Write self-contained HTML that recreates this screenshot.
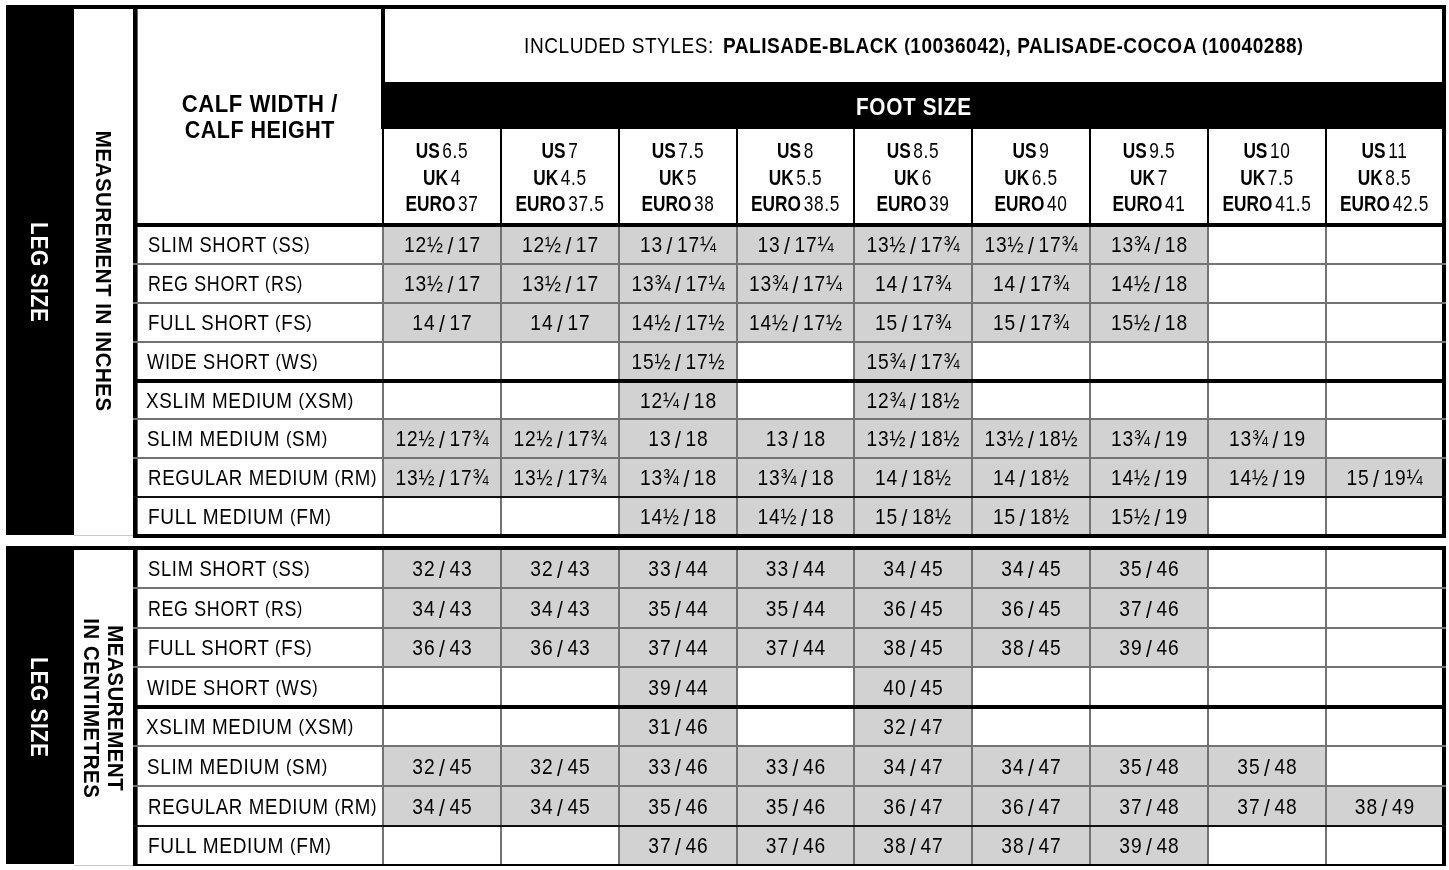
<!DOCTYPE html><html><head><meta charset="utf-8"><style>
*{margin:0;padding:0;box-sizing:border-box}
html,body{width:1449px;height:870px;background:#fff;overflow:hidden}
body{position:relative;filter:grayscale(1);font-family:"Liberation Sans",sans-serif;color:#000}
body>div{position:absolute}
.t{line-height:1;white-space:nowrap}
.c{text-align:center}
.v{white-space:nowrap;text-align:center;font-weight:bold}
.p{font-size:88%;vertical-align:0.11em}
.s{font-size:110%;vertical-align:-0.065em;line-height:0}
</style></head><body>
<div style="left:6px;top:5px;width:68px;height:530px;background:#000;"></div>
<div style="left:74px;top:535px;width:60px;height:1px;background:#c8c8c8;"></div>
<div style="left:6px;top:5px;width:1440px;height:4px;background:#000;"></div>
<div style="left:133px;top:5px;width:4px;height:533px;background:#000;"></div>
<div style="left:137px;top:9px;width:1px;height:529px;background:rgba(0,0,0,0.6);"></div>
<div style="left:1442px;top:5px;width:4px;height:533px;background:#000;"></div>
<div style="left:381px;top:5px;width:4px;height:124px;background:#000;"></div>
<div style="left:381px;top:82px;width:1061px;height:47px;background:#000;"></div>
<div style="left:382px;top:129px;width:2px;height:94px;background:#000;"></div>
<div style="left:500px;top:129px;width:2px;height:94px;background:#000;"></div>
<div style="left:618px;top:129px;width:2px;height:94px;background:#000;"></div>
<div style="left:736px;top:129px;width:2px;height:94px;background:#000;"></div>
<div style="left:853px;top:129px;width:2px;height:94px;background:#000;"></div>
<div style="left:971px;top:129px;width:2px;height:94px;background:#000;"></div>
<div style="left:1089px;top:129px;width:2px;height:94px;background:#000;"></div>
<div style="left:1207px;top:129px;width:2px;height:94px;background:#000;"></div>
<div style="left:1325px;top:129px;width:2px;height:94px;background:#000;"></div>
<div style="left:384px;top:227px;width:116px;height:36px;background:#d2d2d2;"></div>
<div style="left:502px;top:227px;width:116px;height:36px;background:#d2d2d2;"></div>
<div style="left:620px;top:227px;width:116px;height:36px;background:#d2d2d2;"></div>
<div style="left:738px;top:227px;width:115px;height:36px;background:#d2d2d2;"></div>
<div style="left:855px;top:227px;width:116px;height:36px;background:#d2d2d2;"></div>
<div style="left:973px;top:227px;width:116px;height:36px;background:#d2d2d2;"></div>
<div style="left:1091px;top:227px;width:116px;height:36px;background:#d2d2d2;"></div>
<div style="left:384px;top:265px;width:116px;height:37px;background:#d2d2d2;"></div>
<div style="left:502px;top:265px;width:116px;height:37px;background:#d2d2d2;"></div>
<div style="left:620px;top:265px;width:116px;height:37px;background:#d2d2d2;"></div>
<div style="left:738px;top:265px;width:115px;height:37px;background:#d2d2d2;"></div>
<div style="left:855px;top:265px;width:116px;height:37px;background:#d2d2d2;"></div>
<div style="left:973px;top:265px;width:116px;height:37px;background:#d2d2d2;"></div>
<div style="left:1091px;top:265px;width:116px;height:37px;background:#d2d2d2;"></div>
<div style="left:384px;top:304px;width:116px;height:37px;background:#d2d2d2;"></div>
<div style="left:502px;top:304px;width:116px;height:37px;background:#d2d2d2;"></div>
<div style="left:620px;top:304px;width:116px;height:37px;background:#d2d2d2;"></div>
<div style="left:738px;top:304px;width:115px;height:37px;background:#d2d2d2;"></div>
<div style="left:855px;top:304px;width:116px;height:37px;background:#d2d2d2;"></div>
<div style="left:973px;top:304px;width:116px;height:37px;background:#d2d2d2;"></div>
<div style="left:1091px;top:304px;width:116px;height:37px;background:#d2d2d2;"></div>
<div style="left:620px;top:343px;width:116px;height:36px;background:#d2d2d2;"></div>
<div style="left:855px;top:343px;width:116px;height:36px;background:#d2d2d2;"></div>
<div style="left:620px;top:383px;width:116px;height:35px;background:#d2d2d2;"></div>
<div style="left:855px;top:383px;width:116px;height:35px;background:#d2d2d2;"></div>
<div style="left:384px;top:420px;width:116px;height:37px;background:#d2d2d2;"></div>
<div style="left:502px;top:420px;width:116px;height:37px;background:#d2d2d2;"></div>
<div style="left:620px;top:420px;width:116px;height:37px;background:#d2d2d2;"></div>
<div style="left:738px;top:420px;width:115px;height:37px;background:#d2d2d2;"></div>
<div style="left:855px;top:420px;width:116px;height:37px;background:#d2d2d2;"></div>
<div style="left:973px;top:420px;width:116px;height:37px;background:#d2d2d2;"></div>
<div style="left:1091px;top:420px;width:116px;height:37px;background:#d2d2d2;"></div>
<div style="left:1209px;top:420px;width:116px;height:37px;background:#d2d2d2;"></div>
<div style="left:384px;top:459px;width:116px;height:37px;background:#d2d2d2;"></div>
<div style="left:502px;top:459px;width:116px;height:37px;background:#d2d2d2;"></div>
<div style="left:620px;top:459px;width:116px;height:37px;background:#d2d2d2;"></div>
<div style="left:738px;top:459px;width:115px;height:37px;background:#d2d2d2;"></div>
<div style="left:855px;top:459px;width:116px;height:37px;background:#d2d2d2;"></div>
<div style="left:973px;top:459px;width:116px;height:37px;background:#d2d2d2;"></div>
<div style="left:1091px;top:459px;width:116px;height:37px;background:#d2d2d2;"></div>
<div style="left:1209px;top:459px;width:116px;height:37px;background:#d2d2d2;"></div>
<div style="left:1327px;top:459px;width:115px;height:37px;background:#d2d2d2;"></div>
<div style="left:620px;top:498px;width:116px;height:36px;background:#d2d2d2;"></div>
<div style="left:738px;top:498px;width:115px;height:36px;background:#d2d2d2;"></div>
<div style="left:855px;top:498px;width:116px;height:36px;background:#d2d2d2;"></div>
<div style="left:973px;top:498px;width:116px;height:36px;background:#d2d2d2;"></div>
<div style="left:1091px;top:498px;width:116px;height:36px;background:#d2d2d2;"></div>
<div style="left:382px;top:227px;width:2px;height:307px;background:#737373;"></div>
<div style="left:500px;top:227px;width:2px;height:307px;background:#737373;"></div>
<div style="left:618px;top:227px;width:2px;height:307px;background:#737373;"></div>
<div style="left:736px;top:227px;width:2px;height:307px;background:#737373;"></div>
<div style="left:853px;top:227px;width:2px;height:307px;background:#737373;"></div>
<div style="left:971px;top:227px;width:2px;height:307px;background:#737373;"></div>
<div style="left:1089px;top:227px;width:2px;height:307px;background:#737373;"></div>
<div style="left:1207px;top:227px;width:2px;height:307px;background:#737373;"></div>
<div style="left:1325px;top:227px;width:2px;height:307px;background:#737373;"></div>
<div style="left:133px;top:223px;width:1313px;height:4px;background:#000;"></div>
<div style="left:133px;top:263px;width:1313px;height:2px;background:#737373;"></div>
<div style="left:133px;top:302px;width:1313px;height:2px;background:#737373;"></div>
<div style="left:133px;top:341px;width:1313px;height:2px;background:#737373;"></div>
<div style="left:133px;top:379px;width:1313px;height:4px;background:#000;"></div>
<div style="left:133px;top:418px;width:1313px;height:2px;background:#737373;"></div>
<div style="left:133px;top:457px;width:1313px;height:2px;background:#737373;"></div>
<div style="left:133px;top:496px;width:1313px;height:2px;background:#111;"></div>
<div style="left:133px;top:534px;width:1313px;height:4px;background:#000;"></div>
<div class="t" style="left:147.912px;top:233.831px;width:240px;font-size:21.7px;letter-spacing:0.8px;transform:scaleX(0.848);transform-origin:left;">SLIM SHORT <span class="p">(</span>SS<span class="p">)</span></div>
<div class="t c" style="left:384px;top:233.831px;width:116px;font-size:21.7px;letter-spacing:1.0px;word-spacing:-3.0px;padding-left:1.0px;transform:scaleX(0.885);transform-origin:center;">12&#189; <span class="s">/</span> 17</div>
<div class="t c" style="left:502px;top:233.831px;width:116px;font-size:21.7px;letter-spacing:1.0px;word-spacing:-3.0px;padding-left:1.0px;transform:scaleX(0.885);transform-origin:center;">12&#189; <span class="s">/</span> 17</div>
<div class="t c" style="left:620px;top:233.831px;width:116px;font-size:21.7px;letter-spacing:1.0px;word-spacing:-3.0px;padding-left:1.0px;transform:scaleX(0.885);transform-origin:center;">13 <span class="s">/</span> 17&#188;</div>
<div class="t c" style="left:738px;top:233.831px;width:115px;font-size:21.7px;letter-spacing:1.0px;word-spacing:-3.0px;padding-left:1.0px;transform:scaleX(0.885);transform-origin:center;">13 <span class="s">/</span> 17&#188;</div>
<div class="t c" style="left:855px;top:233.831px;width:116px;font-size:21.7px;letter-spacing:1.0px;word-spacing:-3.0px;padding-left:1.0px;transform:scaleX(0.885);transform-origin:center;">13&#189; <span class="s">/</span> 17&#190;</div>
<div class="t c" style="left:973px;top:233.831px;width:116px;font-size:21.7px;letter-spacing:1.0px;word-spacing:-3.0px;padding-left:1.0px;transform:scaleX(0.885);transform-origin:center;">13&#189; <span class="s">/</span> 17&#190;</div>
<div class="t c" style="left:1091px;top:233.831px;width:116px;font-size:21.7px;letter-spacing:1.0px;word-spacing:-3.0px;padding-left:1.0px;transform:scaleX(0.885);transform-origin:center;">13&#190; <span class="s">/</span> 18</div>
<div class="t" style="left:147.803px;top:272.831px;width:240px;font-size:21.7px;letter-spacing:0.8px;transform:scaleX(0.823);transform-origin:left;">REG SHORT <span class="p">(</span>RS<span class="p">)</span></div>
<div class="t c" style="left:384px;top:272.831px;width:116px;font-size:21.7px;letter-spacing:1.0px;word-spacing:-3.0px;padding-left:1.0px;transform:scaleX(0.885);transform-origin:center;">13&#189; <span class="s">/</span> 17</div>
<div class="t c" style="left:502px;top:272.831px;width:116px;font-size:21.7px;letter-spacing:1.0px;word-spacing:-3.0px;padding-left:1.0px;transform:scaleX(0.885);transform-origin:center;">13&#189; <span class="s">/</span> 17</div>
<div class="t c" style="left:620px;top:272.831px;width:116px;font-size:21.7px;letter-spacing:1.0px;word-spacing:-3.0px;padding-left:1.0px;transform:scaleX(0.885);transform-origin:center;">13&#190; <span class="s">/</span> 17&#188;</div>
<div class="t c" style="left:738px;top:272.831px;width:115px;font-size:21.7px;letter-spacing:1.0px;word-spacing:-3.0px;padding-left:1.0px;transform:scaleX(0.885);transform-origin:center;">13&#190; <span class="s">/</span> 17&#188;</div>
<div class="t c" style="left:855px;top:272.831px;width:116px;font-size:21.7px;letter-spacing:1.0px;word-spacing:-3.0px;padding-left:1.0px;transform:scaleX(0.885);transform-origin:center;">14 <span class="s">/</span> 17&#190;</div>
<div class="t c" style="left:973px;top:272.831px;width:116px;font-size:21.7px;letter-spacing:1.0px;word-spacing:-3.0px;padding-left:1.0px;transform:scaleX(0.885);transform-origin:center;">14 <span class="s">/</span> 17&#190;</div>
<div class="t c" style="left:1091px;top:272.831px;width:116px;font-size:21.7px;letter-spacing:1.0px;word-spacing:-3.0px;padding-left:1.0px;transform:scaleX(0.885);transform-origin:center;">14&#189; <span class="s">/</span> 18</div>
<div class="t" style="left:147.875px;top:311.831px;width:240px;font-size:21.7px;letter-spacing:0.8px;transform:scaleX(0.857);transform-origin:left;">FULL SHORT <span class="p">(</span>FS<span class="p">)</span></div>
<div class="t c" style="left:384px;top:311.831px;width:116px;font-size:21.7px;letter-spacing:1.0px;word-spacing:-3.0px;padding-left:1.0px;transform:scaleX(0.885);transform-origin:center;">14 <span class="s">/</span> 17</div>
<div class="t c" style="left:502px;top:311.831px;width:116px;font-size:21.7px;letter-spacing:1.0px;word-spacing:-3.0px;padding-left:1.0px;transform:scaleX(0.885);transform-origin:center;">14 <span class="s">/</span> 17</div>
<div class="t c" style="left:620px;top:311.831px;width:116px;font-size:21.7px;letter-spacing:1.0px;word-spacing:-3.0px;padding-left:1.0px;transform:scaleX(0.885);transform-origin:center;">14&#189; <span class="s">/</span> 17&#189;</div>
<div class="t c" style="left:738px;top:311.831px;width:115px;font-size:21.7px;letter-spacing:1.0px;word-spacing:-3.0px;padding-left:1.0px;transform:scaleX(0.885);transform-origin:center;">14&#189; <span class="s">/</span> 17&#189;</div>
<div class="t c" style="left:855px;top:311.831px;width:116px;font-size:21.7px;letter-spacing:1.0px;word-spacing:-3.0px;padding-left:1.0px;transform:scaleX(0.885);transform-origin:center;">15 <span class="s">/</span> 17&#190;</div>
<div class="t c" style="left:973px;top:311.831px;width:116px;font-size:21.7px;letter-spacing:1.0px;word-spacing:-3.0px;padding-left:1.0px;transform:scaleX(0.885);transform-origin:center;">15 <span class="s">/</span> 17&#190;</div>
<div class="t c" style="left:1091px;top:311.831px;width:116px;font-size:21.7px;letter-spacing:1.0px;word-spacing:-3.0px;padding-left:1.0px;transform:scaleX(0.885);transform-origin:center;">15&#189; <span class="s">/</span> 18</div>
<div class="t" style="left:147.12px;top:350.831px;width:240px;font-size:21.7px;letter-spacing:0.8px;transform:scaleX(0.842);transform-origin:left;">WIDE SHORT <span class="p">(</span>WS<span class="p">)</span></div>
<div class="t c" style="left:620px;top:350.831px;width:116px;font-size:21.7px;letter-spacing:1.0px;word-spacing:-3.0px;padding-left:1.0px;transform:scaleX(0.885);transform-origin:center;">15&#189; <span class="s">/</span> 17&#189;</div>
<div class="t c" style="left:855px;top:350.831px;width:116px;font-size:21.7px;letter-spacing:1.0px;word-spacing:-3.0px;padding-left:1.0px;transform:scaleX(0.885);transform-origin:center;">15&#190; <span class="s">/</span> 17&#190;</div>
<div class="t" style="left:145.771px;top:389.831px;width:240px;font-size:21.7px;letter-spacing:0.8px;transform:scaleX(0.869);transform-origin:left;">XSLIM MEDIUM <span class="p">(</span>XSM<span class="p">)</span></div>
<div class="t c" style="left:620px;top:389.831px;width:116px;font-size:21.7px;letter-spacing:1.0px;word-spacing:-3.0px;padding-left:1.0px;transform:scaleX(0.885);transform-origin:center;">12&#188; <span class="s">/</span> 18</div>
<div class="t c" style="left:855px;top:389.831px;width:116px;font-size:21.7px;letter-spacing:1.0px;word-spacing:-3.0px;padding-left:1.0px;transform:scaleX(0.885);transform-origin:center;">12&#190; <span class="s">/</span> 18&#189;</div>
<div class="t" style="left:147.353px;top:427.831px;width:240px;font-size:21.7px;letter-spacing:0.8px;transform:scaleX(0.867);transform-origin:left;">SLIM MEDIUM <span class="p">(</span>SM<span class="p">)</span></div>
<div class="t c" style="left:384px;top:427.831px;width:116px;font-size:21.7px;letter-spacing:1.0px;word-spacing:-3.0px;padding-left:1.0px;transform:scaleX(0.885);transform-origin:center;">12&#189; <span class="s">/</span> 17&#190;</div>
<div class="t c" style="left:502px;top:427.831px;width:116px;font-size:21.7px;letter-spacing:1.0px;word-spacing:-3.0px;padding-left:1.0px;transform:scaleX(0.885);transform-origin:center;">12&#189; <span class="s">/</span> 17&#190;</div>
<div class="t c" style="left:620px;top:427.831px;width:116px;font-size:21.7px;letter-spacing:1.0px;word-spacing:-3.0px;padding-left:1.0px;transform:scaleX(0.885);transform-origin:center;">13 <span class="s">/</span> 18</div>
<div class="t c" style="left:738px;top:427.831px;width:115px;font-size:21.7px;letter-spacing:1.0px;word-spacing:-3.0px;padding-left:1.0px;transform:scaleX(0.885);transform-origin:center;">13 <span class="s">/</span> 18</div>
<div class="t c" style="left:855px;top:427.831px;width:116px;font-size:21.7px;letter-spacing:1.0px;word-spacing:-3.0px;padding-left:1.0px;transform:scaleX(0.885);transform-origin:center;">13&#189; <span class="s">/</span> 18&#189;</div>
<div class="t c" style="left:973px;top:427.831px;width:116px;font-size:21.7px;letter-spacing:1.0px;word-spacing:-3.0px;padding-left:1.0px;transform:scaleX(0.885);transform-origin:center;">13&#189; <span class="s">/</span> 18&#189;</div>
<div class="t c" style="left:1091px;top:427.831px;width:116px;font-size:21.7px;letter-spacing:1.0px;word-spacing:-3.0px;padding-left:1.0px;transform:scaleX(0.885);transform-origin:center;">13&#190; <span class="s">/</span> 19</div>
<div class="t c" style="left:1209px;top:427.831px;width:116px;font-size:21.7px;letter-spacing:1.0px;word-spacing:-3.0px;padding-left:1.0px;transform:scaleX(0.885);transform-origin:center;">13&#190; <span class="s">/</span> 19</div>
<div class="t" style="left:147.679px;top:466.831px;width:240px;font-size:21.7px;letter-spacing:0.8px;transform:scaleX(0.86);transform-origin:left;">REGULAR MEDIUM <span class="p">(</span>RM<span class="p">)</span></div>
<div class="t c" style="left:384px;top:466.831px;width:116px;font-size:21.7px;letter-spacing:1.0px;word-spacing:-3.0px;padding-left:1.0px;transform:scaleX(0.885);transform-origin:center;">13&#189; <span class="s">/</span> 17&#190;</div>
<div class="t c" style="left:502px;top:466.831px;width:116px;font-size:21.7px;letter-spacing:1.0px;word-spacing:-3.0px;padding-left:1.0px;transform:scaleX(0.885);transform-origin:center;">13&#189; <span class="s">/</span> 17&#190;</div>
<div class="t c" style="left:620px;top:466.831px;width:116px;font-size:21.7px;letter-spacing:1.0px;word-spacing:-3.0px;padding-left:1.0px;transform:scaleX(0.885);transform-origin:center;">13&#190; <span class="s">/</span> 18</div>
<div class="t c" style="left:738px;top:466.831px;width:115px;font-size:21.7px;letter-spacing:1.0px;word-spacing:-3.0px;padding-left:1.0px;transform:scaleX(0.885);transform-origin:center;">13&#190; <span class="s">/</span> 18</div>
<div class="t c" style="left:855px;top:466.831px;width:116px;font-size:21.7px;letter-spacing:1.0px;word-spacing:-3.0px;padding-left:1.0px;transform:scaleX(0.885);transform-origin:center;">14 <span class="s">/</span> 18&#189;</div>
<div class="t c" style="left:973px;top:466.831px;width:116px;font-size:21.7px;letter-spacing:1.0px;word-spacing:-3.0px;padding-left:1.0px;transform:scaleX(0.885);transform-origin:center;">14 <span class="s">/</span> 18&#189;</div>
<div class="t c" style="left:1091px;top:466.831px;width:116px;font-size:21.7px;letter-spacing:1.0px;word-spacing:-3.0px;padding-left:1.0px;transform:scaleX(0.885);transform-origin:center;">14&#189; <span class="s">/</span> 19</div>
<div class="t c" style="left:1209px;top:466.831px;width:116px;font-size:21.7px;letter-spacing:1.0px;word-spacing:-3.0px;padding-left:1.0px;transform:scaleX(0.885);transform-origin:center;">14&#189; <span class="s">/</span> 19</div>
<div class="t c" style="left:1327px;top:466.831px;width:115px;font-size:21.7px;letter-spacing:1.0px;word-spacing:-3.0px;padding-left:1.0px;transform:scaleX(0.885);transform-origin:center;">15 <span class="s">/</span> 19&#188;</div>
<div class="t" style="left:148.233px;top:505.831px;width:240px;font-size:21.7px;letter-spacing:0.8px;transform:scaleX(0.878);transform-origin:left;">FULL MEDIUM <span class="p">(</span>FM<span class="p">)</span></div>
<div class="t c" style="left:620px;top:505.831px;width:116px;font-size:21.7px;letter-spacing:1.0px;word-spacing:-3.0px;padding-left:1.0px;transform:scaleX(0.885);transform-origin:center;">14&#189; <span class="s">/</span> 18</div>
<div class="t c" style="left:738px;top:505.831px;width:115px;font-size:21.7px;letter-spacing:1.0px;word-spacing:-3.0px;padding-left:1.0px;transform:scaleX(0.885);transform-origin:center;">14&#189; <span class="s">/</span> 18</div>
<div class="t c" style="left:855px;top:505.831px;width:116px;font-size:21.7px;letter-spacing:1.0px;word-spacing:-3.0px;padding-left:1.0px;transform:scaleX(0.885);transform-origin:center;">15 <span class="s">/</span> 18&#189;</div>
<div class="t c" style="left:973px;top:505.831px;width:116px;font-size:21.7px;letter-spacing:1.0px;word-spacing:-3.0px;padding-left:1.0px;transform:scaleX(0.885);transform-origin:center;">15 <span class="s">/</span> 18&#189;</div>
<div class="t c" style="left:1091px;top:505.831px;width:116px;font-size:21.7px;letter-spacing:1.0px;word-spacing:-3.0px;padding-left:1.0px;transform:scaleX(0.885);transform-origin:center;">15&#189; <span class="s">/</span> 19</div>
<div style="left:6px;top:546px;width:68px;height:318px;background:#000;"></div>
<div style="left:74px;top:546px;width:60px;height:4px;background:#000;"></div>
<div style="left:74px;top:865px;width:60px;height:1px;background:#c8c8c8;"></div>
<div style="left:133px;top:550px;width:4px;height:315px;background:#000;"></div>
<div style="left:137px;top:550px;width:1px;height:315px;background:rgba(0,0,0,0.6);"></div>
<div style="left:1442px;top:546px;width:4px;height:320px;background:#000;"></div>
<div style="left:384px;top:550px;width:116px;height:37px;background:#d2d2d2;"></div>
<div style="left:502px;top:550px;width:116px;height:37px;background:#d2d2d2;"></div>
<div style="left:620px;top:550px;width:116px;height:37px;background:#d2d2d2;"></div>
<div style="left:738px;top:550px;width:115px;height:37px;background:#d2d2d2;"></div>
<div style="left:855px;top:550px;width:116px;height:37px;background:#d2d2d2;"></div>
<div style="left:973px;top:550px;width:116px;height:37px;background:#d2d2d2;"></div>
<div style="left:1091px;top:550px;width:116px;height:37px;background:#d2d2d2;"></div>
<div style="left:384px;top:589px;width:116px;height:38px;background:#d2d2d2;"></div>
<div style="left:502px;top:589px;width:116px;height:38px;background:#d2d2d2;"></div>
<div style="left:620px;top:589px;width:116px;height:38px;background:#d2d2d2;"></div>
<div style="left:738px;top:589px;width:115px;height:38px;background:#d2d2d2;"></div>
<div style="left:855px;top:589px;width:116px;height:38px;background:#d2d2d2;"></div>
<div style="left:973px;top:589px;width:116px;height:38px;background:#d2d2d2;"></div>
<div style="left:1091px;top:589px;width:116px;height:38px;background:#d2d2d2;"></div>
<div style="left:384px;top:629px;width:116px;height:37px;background:#d2d2d2;"></div>
<div style="left:502px;top:629px;width:116px;height:37px;background:#d2d2d2;"></div>
<div style="left:620px;top:629px;width:116px;height:37px;background:#d2d2d2;"></div>
<div style="left:738px;top:629px;width:115px;height:37px;background:#d2d2d2;"></div>
<div style="left:855px;top:629px;width:116px;height:37px;background:#d2d2d2;"></div>
<div style="left:973px;top:629px;width:116px;height:37px;background:#d2d2d2;"></div>
<div style="left:1091px;top:629px;width:116px;height:37px;background:#d2d2d2;"></div>
<div style="left:620px;top:668px;width:116px;height:37px;background:#d2d2d2;"></div>
<div style="left:855px;top:668px;width:116px;height:37px;background:#d2d2d2;"></div>
<div style="left:620px;top:709px;width:116px;height:36px;background:#d2d2d2;"></div>
<div style="left:855px;top:709px;width:116px;height:36px;background:#d2d2d2;"></div>
<div style="left:384px;top:747px;width:116px;height:38px;background:#d2d2d2;"></div>
<div style="left:502px;top:747px;width:116px;height:38px;background:#d2d2d2;"></div>
<div style="left:620px;top:747px;width:116px;height:38px;background:#d2d2d2;"></div>
<div style="left:738px;top:747px;width:115px;height:38px;background:#d2d2d2;"></div>
<div style="left:855px;top:747px;width:116px;height:38px;background:#d2d2d2;"></div>
<div style="left:973px;top:747px;width:116px;height:38px;background:#d2d2d2;"></div>
<div style="left:1091px;top:747px;width:116px;height:38px;background:#d2d2d2;"></div>
<div style="left:1209px;top:747px;width:116px;height:38px;background:#d2d2d2;"></div>
<div style="left:384px;top:787px;width:116px;height:38px;background:#d2d2d2;"></div>
<div style="left:502px;top:787px;width:116px;height:38px;background:#d2d2d2;"></div>
<div style="left:620px;top:787px;width:116px;height:38px;background:#d2d2d2;"></div>
<div style="left:738px;top:787px;width:115px;height:38px;background:#d2d2d2;"></div>
<div style="left:855px;top:787px;width:116px;height:38px;background:#d2d2d2;"></div>
<div style="left:973px;top:787px;width:116px;height:38px;background:#d2d2d2;"></div>
<div style="left:1091px;top:787px;width:116px;height:38px;background:#d2d2d2;"></div>
<div style="left:1209px;top:787px;width:116px;height:38px;background:#d2d2d2;"></div>
<div style="left:1327px;top:787px;width:115px;height:38px;background:#d2d2d2;"></div>
<div style="left:620px;top:827px;width:116px;height:37px;background:#d2d2d2;"></div>
<div style="left:738px;top:827px;width:115px;height:37px;background:#d2d2d2;"></div>
<div style="left:855px;top:827px;width:116px;height:37px;background:#d2d2d2;"></div>
<div style="left:973px;top:827px;width:116px;height:37px;background:#d2d2d2;"></div>
<div style="left:1091px;top:827px;width:116px;height:37px;background:#d2d2d2;"></div>
<div style="left:382px;top:550px;width:2px;height:314px;background:#737373;"></div>
<div style="left:500px;top:550px;width:2px;height:314px;background:#737373;"></div>
<div style="left:618px;top:550px;width:2px;height:314px;background:#737373;"></div>
<div style="left:736px;top:550px;width:2px;height:314px;background:#737373;"></div>
<div style="left:853px;top:550px;width:2px;height:314px;background:#737373;"></div>
<div style="left:971px;top:550px;width:2px;height:314px;background:#737373;"></div>
<div style="left:1089px;top:550px;width:2px;height:314px;background:#737373;"></div>
<div style="left:1207px;top:550px;width:2px;height:314px;background:#737373;"></div>
<div style="left:1325px;top:550px;width:2px;height:314px;background:#737373;"></div>
<div style="left:133px;top:546px;width:1313px;height:4px;background:#000;"></div>
<div style="left:133px;top:587px;width:1313px;height:2px;background:#737373;"></div>
<div style="left:133px;top:627px;width:1313px;height:2px;background:#737373;"></div>
<div style="left:133px;top:666px;width:1313px;height:2px;background:#737373;"></div>
<div style="left:133px;top:705px;width:1313px;height:4px;background:#000;"></div>
<div style="left:133px;top:745px;width:1313px;height:2px;background:#737373;"></div>
<div style="left:133px;top:785px;width:1313px;height:2px;background:#737373;"></div>
<div style="left:133px;top:825px;width:1313px;height:2px;background:#111;"></div>
<div style="left:133px;top:864px;width:1313px;height:2px;background:#000;"></div>
<div class="t" style="left:147.912px;top:557.831px;width:240px;font-size:21.7px;letter-spacing:0.8px;transform:scaleX(0.848);transform-origin:left;">SLIM SHORT <span class="p">(</span>SS<span class="p">)</span></div>
<div class="t c" style="left:384px;top:557.831px;width:116px;font-size:21.7px;letter-spacing:1.0px;word-spacing:-3.0px;padding-left:1.0px;transform:scaleX(0.885);transform-origin:center;">32 <span class="s">/</span> 43</div>
<div class="t c" style="left:502px;top:557.831px;width:116px;font-size:21.7px;letter-spacing:1.0px;word-spacing:-3.0px;padding-left:1.0px;transform:scaleX(0.885);transform-origin:center;">32 <span class="s">/</span> 43</div>
<div class="t c" style="left:620px;top:557.831px;width:116px;font-size:21.7px;letter-spacing:1.0px;word-spacing:-3.0px;padding-left:1.0px;transform:scaleX(0.885);transform-origin:center;">33 <span class="s">/</span> 44</div>
<div class="t c" style="left:738px;top:557.831px;width:115px;font-size:21.7px;letter-spacing:1.0px;word-spacing:-3.0px;padding-left:1.0px;transform:scaleX(0.885);transform-origin:center;">33 <span class="s">/</span> 44</div>
<div class="t c" style="left:855px;top:557.831px;width:116px;font-size:21.7px;letter-spacing:1.0px;word-spacing:-3.0px;padding-left:1.0px;transform:scaleX(0.885);transform-origin:center;">34 <span class="s">/</span> 45</div>
<div class="t c" style="left:973px;top:557.831px;width:116px;font-size:21.7px;letter-spacing:1.0px;word-spacing:-3.0px;padding-left:1.0px;transform:scaleX(0.885);transform-origin:center;">34 <span class="s">/</span> 45</div>
<div class="t c" style="left:1091px;top:557.831px;width:116px;font-size:21.7px;letter-spacing:1.0px;word-spacing:-3.0px;padding-left:1.0px;transform:scaleX(0.885);transform-origin:center;">35 <span class="s">/</span> 46</div>
<div class="t" style="left:147.803px;top:597.831px;width:240px;font-size:21.7px;letter-spacing:0.8px;transform:scaleX(0.823);transform-origin:left;">REG SHORT <span class="p">(</span>RS<span class="p">)</span></div>
<div class="t c" style="left:384px;top:597.831px;width:116px;font-size:21.7px;letter-spacing:1.0px;word-spacing:-3.0px;padding-left:1.0px;transform:scaleX(0.885);transform-origin:center;">34 <span class="s">/</span> 43</div>
<div class="t c" style="left:502px;top:597.831px;width:116px;font-size:21.7px;letter-spacing:1.0px;word-spacing:-3.0px;padding-left:1.0px;transform:scaleX(0.885);transform-origin:center;">34 <span class="s">/</span> 43</div>
<div class="t c" style="left:620px;top:597.831px;width:116px;font-size:21.7px;letter-spacing:1.0px;word-spacing:-3.0px;padding-left:1.0px;transform:scaleX(0.885);transform-origin:center;">35 <span class="s">/</span> 44</div>
<div class="t c" style="left:738px;top:597.831px;width:115px;font-size:21.7px;letter-spacing:1.0px;word-spacing:-3.0px;padding-left:1.0px;transform:scaleX(0.885);transform-origin:center;">35 <span class="s">/</span> 44</div>
<div class="t c" style="left:855px;top:597.831px;width:116px;font-size:21.7px;letter-spacing:1.0px;word-spacing:-3.0px;padding-left:1.0px;transform:scaleX(0.885);transform-origin:center;">36 <span class="s">/</span> 45</div>
<div class="t c" style="left:973px;top:597.831px;width:116px;font-size:21.7px;letter-spacing:1.0px;word-spacing:-3.0px;padding-left:1.0px;transform:scaleX(0.885);transform-origin:center;">36 <span class="s">/</span> 45</div>
<div class="t c" style="left:1091px;top:597.831px;width:116px;font-size:21.7px;letter-spacing:1.0px;word-spacing:-3.0px;padding-left:1.0px;transform:scaleX(0.885);transform-origin:center;">37 <span class="s">/</span> 46</div>
<div class="t" style="left:147.875px;top:636.831px;width:240px;font-size:21.7px;letter-spacing:0.8px;transform:scaleX(0.857);transform-origin:left;">FULL SHORT <span class="p">(</span>FS<span class="p">)</span></div>
<div class="t c" style="left:384px;top:636.831px;width:116px;font-size:21.7px;letter-spacing:1.0px;word-spacing:-3.0px;padding-left:1.0px;transform:scaleX(0.885);transform-origin:center;">36 <span class="s">/</span> 43</div>
<div class="t c" style="left:502px;top:636.831px;width:116px;font-size:21.7px;letter-spacing:1.0px;word-spacing:-3.0px;padding-left:1.0px;transform:scaleX(0.885);transform-origin:center;">36 <span class="s">/</span> 43</div>
<div class="t c" style="left:620px;top:636.831px;width:116px;font-size:21.7px;letter-spacing:1.0px;word-spacing:-3.0px;padding-left:1.0px;transform:scaleX(0.885);transform-origin:center;">37 <span class="s">/</span> 44</div>
<div class="t c" style="left:738px;top:636.831px;width:115px;font-size:21.7px;letter-spacing:1.0px;word-spacing:-3.0px;padding-left:1.0px;transform:scaleX(0.885);transform-origin:center;">37 <span class="s">/</span> 44</div>
<div class="t c" style="left:855px;top:636.831px;width:116px;font-size:21.7px;letter-spacing:1.0px;word-spacing:-3.0px;padding-left:1.0px;transform:scaleX(0.885);transform-origin:center;">38 <span class="s">/</span> 45</div>
<div class="t c" style="left:973px;top:636.831px;width:116px;font-size:21.7px;letter-spacing:1.0px;word-spacing:-3.0px;padding-left:1.0px;transform:scaleX(0.885);transform-origin:center;">38 <span class="s">/</span> 45</div>
<div class="t c" style="left:1091px;top:636.831px;width:116px;font-size:21.7px;letter-spacing:1.0px;word-spacing:-3.0px;padding-left:1.0px;transform:scaleX(0.885);transform-origin:center;">39 <span class="s">/</span> 46</div>
<div class="t" style="left:147.12px;top:676.831px;width:240px;font-size:21.7px;letter-spacing:0.8px;transform:scaleX(0.842);transform-origin:left;">WIDE SHORT <span class="p">(</span>WS<span class="p">)</span></div>
<div class="t c" style="left:620px;top:676.831px;width:116px;font-size:21.7px;letter-spacing:1.0px;word-spacing:-3.0px;padding-left:1.0px;transform:scaleX(0.885);transform-origin:center;">39 <span class="s">/</span> 44</div>
<div class="t c" style="left:855px;top:676.831px;width:116px;font-size:21.7px;letter-spacing:1.0px;word-spacing:-3.0px;padding-left:1.0px;transform:scaleX(0.885);transform-origin:center;">40 <span class="s">/</span> 45</div>
<div class="t" style="left:145.771px;top:715.831px;width:240px;font-size:21.7px;letter-spacing:0.8px;transform:scaleX(0.869);transform-origin:left;">XSLIM MEDIUM <span class="p">(</span>XSM<span class="p">)</span></div>
<div class="t c" style="left:620px;top:715.831px;width:116px;font-size:21.7px;letter-spacing:1.0px;word-spacing:-3.0px;padding-left:1.0px;transform:scaleX(0.885);transform-origin:center;">31 <span class="s">/</span> 46</div>
<div class="t c" style="left:855px;top:715.831px;width:116px;font-size:21.7px;letter-spacing:1.0px;word-spacing:-3.0px;padding-left:1.0px;transform:scaleX(0.885);transform-origin:center;">32 <span class="s">/</span> 47</div>
<div class="t" style="left:147.353px;top:755.831px;width:240px;font-size:21.7px;letter-spacing:0.8px;transform:scaleX(0.867);transform-origin:left;">SLIM MEDIUM <span class="p">(</span>SM<span class="p">)</span></div>
<div class="t c" style="left:384px;top:755.831px;width:116px;font-size:21.7px;letter-spacing:1.0px;word-spacing:-3.0px;padding-left:1.0px;transform:scaleX(0.885);transform-origin:center;">32 <span class="s">/</span> 45</div>
<div class="t c" style="left:502px;top:755.831px;width:116px;font-size:21.7px;letter-spacing:1.0px;word-spacing:-3.0px;padding-left:1.0px;transform:scaleX(0.885);transform-origin:center;">32 <span class="s">/</span> 45</div>
<div class="t c" style="left:620px;top:755.831px;width:116px;font-size:21.7px;letter-spacing:1.0px;word-spacing:-3.0px;padding-left:1.0px;transform:scaleX(0.885);transform-origin:center;">33 <span class="s">/</span> 46</div>
<div class="t c" style="left:738px;top:755.831px;width:115px;font-size:21.7px;letter-spacing:1.0px;word-spacing:-3.0px;padding-left:1.0px;transform:scaleX(0.885);transform-origin:center;">33 <span class="s">/</span> 46</div>
<div class="t c" style="left:855px;top:755.831px;width:116px;font-size:21.7px;letter-spacing:1.0px;word-spacing:-3.0px;padding-left:1.0px;transform:scaleX(0.885);transform-origin:center;">34 <span class="s">/</span> 47</div>
<div class="t c" style="left:973px;top:755.831px;width:116px;font-size:21.7px;letter-spacing:1.0px;word-spacing:-3.0px;padding-left:1.0px;transform:scaleX(0.885);transform-origin:center;">34 <span class="s">/</span> 47</div>
<div class="t c" style="left:1091px;top:755.831px;width:116px;font-size:21.7px;letter-spacing:1.0px;word-spacing:-3.0px;padding-left:1.0px;transform:scaleX(0.885);transform-origin:center;">35 <span class="s">/</span> 48</div>
<div class="t c" style="left:1209px;top:755.831px;width:116px;font-size:21.7px;letter-spacing:1.0px;word-spacing:-3.0px;padding-left:1.0px;transform:scaleX(0.885);transform-origin:center;">35 <span class="s">/</span> 48</div>
<div class="t" style="left:147.679px;top:795.831px;width:240px;font-size:21.7px;letter-spacing:0.8px;transform:scaleX(0.86);transform-origin:left;">REGULAR MEDIUM <span class="p">(</span>RM<span class="p">)</span></div>
<div class="t c" style="left:384px;top:795.831px;width:116px;font-size:21.7px;letter-spacing:1.0px;word-spacing:-3.0px;padding-left:1.0px;transform:scaleX(0.885);transform-origin:center;">34 <span class="s">/</span> 45</div>
<div class="t c" style="left:502px;top:795.831px;width:116px;font-size:21.7px;letter-spacing:1.0px;word-spacing:-3.0px;padding-left:1.0px;transform:scaleX(0.885);transform-origin:center;">34 <span class="s">/</span> 45</div>
<div class="t c" style="left:620px;top:795.831px;width:116px;font-size:21.7px;letter-spacing:1.0px;word-spacing:-3.0px;padding-left:1.0px;transform:scaleX(0.885);transform-origin:center;">35 <span class="s">/</span> 46</div>
<div class="t c" style="left:738px;top:795.831px;width:115px;font-size:21.7px;letter-spacing:1.0px;word-spacing:-3.0px;padding-left:1.0px;transform:scaleX(0.885);transform-origin:center;">35 <span class="s">/</span> 46</div>
<div class="t c" style="left:855px;top:795.831px;width:116px;font-size:21.7px;letter-spacing:1.0px;word-spacing:-3.0px;padding-left:1.0px;transform:scaleX(0.885);transform-origin:center;">36 <span class="s">/</span> 47</div>
<div class="t c" style="left:973px;top:795.831px;width:116px;font-size:21.7px;letter-spacing:1.0px;word-spacing:-3.0px;padding-left:1.0px;transform:scaleX(0.885);transform-origin:center;">36 <span class="s">/</span> 47</div>
<div class="t c" style="left:1091px;top:795.831px;width:116px;font-size:21.7px;letter-spacing:1.0px;word-spacing:-3.0px;padding-left:1.0px;transform:scaleX(0.885);transform-origin:center;">37 <span class="s">/</span> 48</div>
<div class="t c" style="left:1209px;top:795.831px;width:116px;font-size:21.7px;letter-spacing:1.0px;word-spacing:-3.0px;padding-left:1.0px;transform:scaleX(0.885);transform-origin:center;">37 <span class="s">/</span> 48</div>
<div class="t c" style="left:1327px;top:795.831px;width:115px;font-size:21.7px;letter-spacing:1.0px;word-spacing:-3.0px;padding-left:1.0px;transform:scaleX(0.885);transform-origin:center;">38 <span class="s">/</span> 49</div>
<div class="t" style="left:148.233px;top:834.831px;width:240px;font-size:21.7px;letter-spacing:0.8px;transform:scaleX(0.878);transform-origin:left;">FULL MEDIUM <span class="p">(</span>FM<span class="p">)</span></div>
<div class="t c" style="left:620px;top:834.831px;width:116px;font-size:21.7px;letter-spacing:1.0px;word-spacing:-3.0px;padding-left:1.0px;transform:scaleX(0.885);transform-origin:center;">37 <span class="s">/</span> 46</div>
<div class="t c" style="left:738px;top:834.831px;width:115px;font-size:21.7px;letter-spacing:1.0px;word-spacing:-3.0px;padding-left:1.0px;transform:scaleX(0.885);transform-origin:center;">37 <span class="s">/</span> 46</div>
<div class="t c" style="left:855px;top:834.831px;width:116px;font-size:21.7px;letter-spacing:1.0px;word-spacing:-3.0px;padding-left:1.0px;transform:scaleX(0.885);transform-origin:center;">38 <span class="s">/</span> 47</div>
<div class="t c" style="left:973px;top:834.831px;width:116px;font-size:21.7px;letter-spacing:1.0px;word-spacing:-3.0px;padding-left:1.0px;transform:scaleX(0.885);transform-origin:center;">38 <span class="s">/</span> 47</div>
<div class="t c" style="left:1091px;top:834.831px;width:116px;font-size:21.7px;letter-spacing:1.0px;word-spacing:-3.0px;padding-left:1.0px;transform:scaleX(0.885);transform-origin:center;">39 <span class="s">/</span> 48</div>
<div class="t c" style="left:138px;top:92.03px;width:243px;font-size:24.3px;letter-spacing:0.6px;font-weight:bold;padding-left:0.6px;transform:scaleX(0.909);transform-origin:center;">CALF WIDTH /</div>
<div class="t c" style="left:138px;top:118.18px;width:243px;font-size:24.3px;letter-spacing:0.6px;font-weight:bold;padding-left:0.6px;transform:scaleX(0.884);transform-origin:center;">CALF HEIGHT</div>
<div class="t c" style="left:385px;top:35.635px;width:1057px;font-size:21.4px;letter-spacing:0.6px;padding-left:0.6px;transform:scaleX(0.891);transform-origin:center;">INCLUDED STYLES: <b style="margin-left:3.7px">PALISADE-BLACK <span class="p">(</span>10036042<span class="p">)</span>, PALISADE-COCOA <span class="p">(</span>10040288<span class="p">)</span></b></div>
<div class="t c" style="left:385px;top:95.091px;width:1057px;font-size:24.7px;letter-spacing:0.8px;font-weight:bold;padding-left:0.8px;color:#fff;transform:scaleX(0.842);transform-origin:center;">FOOT SIZE</div>
<div class="t c" style="left:384px;top:141.185px;width:116px;font-size:21.4px;letter-spacing:0.0px;padding-left:0.0px;word-spacing:-2.6px;transform:scaleX(0.808);transform-origin:center;"><b>US</b> <span style="letter-spacing:0.8px">6.5</span></div>
<div class="t c" style="left:384px;top:167.585px;width:116px;font-size:21.4px;letter-spacing:0.0px;padding-left:0.0px;word-spacing:-2.6px;transform:scaleX(0.808);transform-origin:center;"><b>UK</b> <span style="letter-spacing:0.8px">4</span></div>
<div class="t c" style="left:384px;top:193.735px;width:116px;font-size:21.4px;letter-spacing:0.0px;padding-left:0.0px;word-spacing:-2.6px;transform:scaleX(0.808);transform-origin:center;"><b>EURO</b> <span style="letter-spacing:0.8px">37</span></div>
<div class="t c" style="left:502px;top:141.185px;width:116px;font-size:21.4px;letter-spacing:0.0px;padding-left:0.0px;word-spacing:-2.6px;transform:scaleX(0.808);transform-origin:center;"><b>US</b> <span style="letter-spacing:0.8px">7</span></div>
<div class="t c" style="left:502px;top:167.585px;width:116px;font-size:21.4px;letter-spacing:0.0px;padding-left:0.0px;word-spacing:-2.6px;transform:scaleX(0.808);transform-origin:center;"><b>UK</b> <span style="letter-spacing:0.8px">4.5</span></div>
<div class="t c" style="left:502px;top:193.735px;width:116px;font-size:21.4px;letter-spacing:0.0px;padding-left:0.0px;word-spacing:-2.6px;transform:scaleX(0.808);transform-origin:center;"><b>EURO</b> <span style="letter-spacing:0.8px">37.5</span></div>
<div class="t c" style="left:620px;top:141.185px;width:116px;font-size:21.4px;letter-spacing:0.0px;padding-left:0.0px;word-spacing:-2.6px;transform:scaleX(0.808);transform-origin:center;"><b>US</b> <span style="letter-spacing:0.8px">7.5</span></div>
<div class="t c" style="left:620px;top:167.585px;width:116px;font-size:21.4px;letter-spacing:0.0px;padding-left:0.0px;word-spacing:-2.6px;transform:scaleX(0.808);transform-origin:center;"><b>UK</b> <span style="letter-spacing:0.8px">5</span></div>
<div class="t c" style="left:620px;top:193.735px;width:116px;font-size:21.4px;letter-spacing:0.0px;padding-left:0.0px;word-spacing:-2.6px;transform:scaleX(0.808);transform-origin:center;"><b>EURO</b> <span style="letter-spacing:0.8px">38</span></div>
<div class="t c" style="left:738px;top:141.185px;width:115px;font-size:21.4px;letter-spacing:0.0px;padding-left:0.0px;word-spacing:-2.6px;transform:scaleX(0.808);transform-origin:center;"><b>US</b> <span style="letter-spacing:0.8px">8</span></div>
<div class="t c" style="left:738px;top:167.585px;width:115px;font-size:21.4px;letter-spacing:0.0px;padding-left:0.0px;word-spacing:-2.6px;transform:scaleX(0.808);transform-origin:center;"><b>UK</b> <span style="letter-spacing:0.8px">5.5</span></div>
<div class="t c" style="left:738px;top:193.735px;width:115px;font-size:21.4px;letter-spacing:0.0px;padding-left:0.0px;word-spacing:-2.6px;transform:scaleX(0.808);transform-origin:center;"><b>EURO</b> <span style="letter-spacing:0.8px">38.5</span></div>
<div class="t c" style="left:855px;top:141.185px;width:116px;font-size:21.4px;letter-spacing:0.0px;padding-left:0.0px;word-spacing:-2.6px;transform:scaleX(0.808);transform-origin:center;"><b>US</b> <span style="letter-spacing:0.8px">8.5</span></div>
<div class="t c" style="left:855px;top:167.585px;width:116px;font-size:21.4px;letter-spacing:0.0px;padding-left:0.0px;word-spacing:-2.6px;transform:scaleX(0.808);transform-origin:center;"><b>UK</b> <span style="letter-spacing:0.8px">6</span></div>
<div class="t c" style="left:855px;top:193.735px;width:116px;font-size:21.4px;letter-spacing:0.0px;padding-left:0.0px;word-spacing:-2.6px;transform:scaleX(0.808);transform-origin:center;"><b>EURO</b> <span style="letter-spacing:0.8px">39</span></div>
<div class="t c" style="left:973px;top:141.185px;width:116px;font-size:21.4px;letter-spacing:0.0px;padding-left:0.0px;word-spacing:-2.6px;transform:scaleX(0.808);transform-origin:center;"><b>US</b> <span style="letter-spacing:0.8px">9</span></div>
<div class="t c" style="left:973px;top:167.585px;width:116px;font-size:21.4px;letter-spacing:0.0px;padding-left:0.0px;word-spacing:-2.6px;transform:scaleX(0.808);transform-origin:center;"><b>UK</b> <span style="letter-spacing:0.8px">6.5</span></div>
<div class="t c" style="left:973px;top:193.735px;width:116px;font-size:21.4px;letter-spacing:0.0px;padding-left:0.0px;word-spacing:-2.6px;transform:scaleX(0.808);transform-origin:center;"><b>EURO</b> <span style="letter-spacing:0.8px">40</span></div>
<div class="t c" style="left:1091px;top:141.185px;width:116px;font-size:21.4px;letter-spacing:0.0px;padding-left:0.0px;word-spacing:-2.6px;transform:scaleX(0.808);transform-origin:center;"><b>US</b> <span style="letter-spacing:0.8px">9.5</span></div>
<div class="t c" style="left:1091px;top:167.585px;width:116px;font-size:21.4px;letter-spacing:0.0px;padding-left:0.0px;word-spacing:-2.6px;transform:scaleX(0.808);transform-origin:center;"><b>UK</b> <span style="letter-spacing:0.8px">7</span></div>
<div class="t c" style="left:1091px;top:193.735px;width:116px;font-size:21.4px;letter-spacing:0.0px;padding-left:0.0px;word-spacing:-2.6px;transform:scaleX(0.808);transform-origin:center;"><b>EURO</b> <span style="letter-spacing:0.8px">41</span></div>
<div class="t c" style="left:1209px;top:141.185px;width:116px;font-size:21.4px;letter-spacing:0.0px;padding-left:0.0px;word-spacing:-2.6px;transform:scaleX(0.808);transform-origin:center;"><b>US</b> <span style="letter-spacing:0.8px">10</span></div>
<div class="t c" style="left:1209px;top:167.585px;width:116px;font-size:21.4px;letter-spacing:0.0px;padding-left:0.0px;word-spacing:-2.6px;transform:scaleX(0.808);transform-origin:center;"><b>UK</b> <span style="letter-spacing:0.8px">7.5</span></div>
<div class="t c" style="left:1209px;top:193.735px;width:116px;font-size:21.4px;letter-spacing:0.0px;padding-left:0.0px;word-spacing:-2.6px;transform:scaleX(0.808);transform-origin:center;"><b>EURO</b> <span style="letter-spacing:0.8px">41.5</span></div>
<div class="t c" style="left:1327px;top:141.185px;width:115px;font-size:21.4px;letter-spacing:0.0px;padding-left:0.0px;word-spacing:-2.6px;transform:scaleX(0.808);transform-origin:center;"><b>US</b> <span style="letter-spacing:0.8px">11</span></div>
<div class="t c" style="left:1327px;top:167.585px;width:115px;font-size:21.4px;letter-spacing:0.0px;padding-left:0.0px;word-spacing:-2.6px;transform:scaleX(0.808);transform-origin:center;"><b>UK</b> <span style="letter-spacing:0.8px">8.5</span></div>
<div class="t c" style="left:1327px;top:193.735px;width:115px;font-size:21.4px;letter-spacing:0.0px;padding-left:0.0px;word-spacing:-2.6px;transform:scaleX(0.808);transform-origin:center;"><b>EURO</b> <span style="letter-spacing:0.8px">42.5</span></div>
<div class="v" style="left:38.5px;top:271.7px;font-size:24.7px;letter-spacing:0.8px;padding-left:0.8px;line-height:24px;color:#fff;transform:translate(-50%,-50%) rotate(90deg) scaleX(0.845)">LEG SIZE</div>
<div class="v" style="left:103.5px;top:270.85px;font-size:22.95px;letter-spacing:0.6px;padding-left:0.6px;line-height:24px;color:#000;transform:translate(-50%,-50%) rotate(90deg) scaleX(0.893)">MEASUREMENT IN INCHES</div>
<div class="v" style="left:38.5px;top:707.35px;font-size:24.7px;letter-spacing:0.8px;padding-left:0.8px;line-height:24px;color:#fff;transform:translate(-50%,-50%) rotate(90deg) scaleX(0.845)">LEG SIZE</div>
<div class="v" style="left:103.5px;top:708.35px;font-size:22.95px;letter-spacing:0.6px;padding-left:0.6px;line-height:24px;color:#000;transform:translate(-50%,-50%) rotate(90deg) scaleX(0.891)">MEASUREMENT<br>IN CENTIMETRES</div>
</body></html>
